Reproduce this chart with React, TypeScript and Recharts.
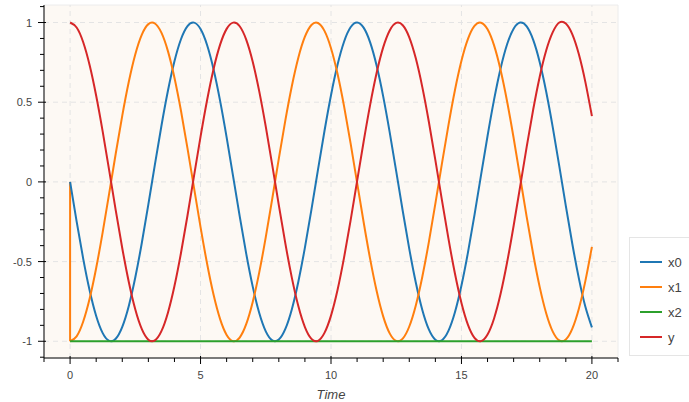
import React from "react";
import { LineChart, Line, XAxis, YAxis, CartesianGrid, ReferenceLine, ReferenceArea } from "recharts";

const time = [
  0, 0.25, 0.5, 0.75, 1, 1.25, 1.5, 1.75, 2, 2.25, 2.5, 2.75, 3, 3.25, 3.5, 3.75, 4, 4.25, 4.5, 4.75,
  5, 5.25, 5.5, 5.75, 6, 6.25, 6.5, 6.75, 7, 7.25, 7.5, 7.75, 8, 8.25, 8.5, 8.75, 9, 9.25, 9.5, 9.75,
  10, 10.25, 10.5, 10.75, 11, 11.25, 11.5, 11.75, 12, 12.25, 12.5, 12.75, 13, 13.25, 13.5, 13.75, 14, 14.25, 14.5, 14.75,
  15, 15.25, 15.5, 15.75, 16, 16.25, 16.5, 16.75, 17, 17.25, 17.5, 17.75, 18, 18.25, 18.5, 18.75, 19, 19.25, 19.5, 19.75, 20,
];

const x0 = [
  0, -0.2474, -0.4794, -0.6816, -0.8415, -0.949, -0.9975, -0.984, -0.9093, -0.7781, -0.5985, -0.3817, -0.1411, 0.1082, 0.3508, 0.5716, 0.7568, 0.895, 0.9775, 0.9993,
  0.9589, 0.8589, 0.7055, 0.5083, 0.2794, 0.0332, -0.2151, -0.45, -0.657, -0.8231, -0.938, -0.9946, -0.9894, -0.9224, -0.7985, -0.6247, -0.4121, -0.1739, 0.0752, 0.3195,
  0.544, 0.7347, 0.8797, 0.97, 1.0, 0.9678, 0.8755, 0.7287, 0.5366, 0.3111, 0.0663, -0.1826, -0.4202, -0.6316, -0.8038, -0.926, -0.9906, -0.9936, -0.9349, -0.818,
  -0.6503, -0.4421, -0.2065, 0.042, 0.2879, 0.5159, 0.7118, 0.8634, 0.9614, 0.9996, 0.9756, 0.891, 0.751, 0.5643, 0.3425, 0.0994, -0.1499, -0.3898, -0.6055, -0.7836, -0.9129,
];

// x1 starts at 0 at Time 0 and drops straight to -1
const x1Start = [0, -1];
const x1StartTime = [0, 0];
const x1 = [
  -1, -0.9689, -0.8776, -0.7317, -0.5403, -0.3153, -0.0707, 0.1782, 0.4161, 0.6282, 0.8011, 0.9243, 0.99, 0.9941, 0.9365, 0.8206, 0.6536, 0.4461, 0.2108, -0.0376,
  -0.2837, -0.5121, -0.7087, -0.8612, -0.9602, -0.9995, -0.9766, -0.893, -0.7539, -0.5679, -0.3466, -0.104, 0.1455, 0.3862, 0.602, 0.7808, 0.9111, 0.9848, 0.9972, 0.9476,
  0.8391, 0.6784, 0.4755, 0.2431, -0.0044, -0.2517, -0.4833, -0.6849, -0.8439, -0.9504, -0.9978, -0.9832, -0.9074, -0.7753, -0.5949, -0.3776, -0.1367, 0.1126, 0.3549, 0.5752,
  0.7597, 0.897, 0.9785, 0.9991, 0.9577, 0.8567, 0.7024, 0.5045, 0.2752, 0.0288, -0.2194, -0.454, -0.6603, -0.8256, -0.9395, -0.995, -0.9887, -0.9209, -0.7958, -0.6213, -0.4081,
];

const x2 = [
  -1, -1, -1, -1, -1, -1, -1, -1, -1, -1, -1, -1, -1, -1, -1, -1, -1, -1, -1, -1,
  -1, -1, -1, -1, -1, -1, -1, -1, -1, -1, -1, -1, -1, -1, -1, -1, -1, -1, -1, -1,
  -1, -1, -1, -1, -1, -1, -1, -1, -1, -1, -1, -1, -1, -1, -1, -1, -1, -1, -1, -1,
  -1, -1, -1, -1, -1, -1, -1, -1, -1, -1, -1, -1, -1, -1, -1, -1, -1, -1, -1, -1, -1,
];

const y = [
  1, 0.9689, 0.8776, 0.7317, 0.5403, 0.3153, 0.0707, -0.1782, -0.4161, -0.6282, -0.8011, -0.9243, -0.99, -0.9941, -0.9365, -0.8206, -0.6536, -0.4461, -0.2108, 0.0376,
  0.2837, 0.5121, 0.7087, 0.8612, 0.9602, 0.9995, 0.9766, 0.893, 0.7539, 0.5679, 0.3466, 0.104, -0.1455, -0.3862, -0.602, -0.7808, -0.9111, -0.9848, -0.9972, -0.9476,
  -0.8391, -0.6784, -0.4755, -0.2431, 0.0044, 0.2517, 0.4833, 0.6849, 0.8439, 0.9504, 0.9978, 0.9832, 0.9074, 0.7753, 0.5949, 0.3776, 0.1367, -0.1126, -0.3549, -0.5752,
  -0.7597, -0.897, -0.9785, -0.9991, -0.9577, -0.8567, -0.7024, -0.5045, -0.2752, -0.0288, 0.2194, 0.454, 0.6603, 0.8256, 0.9395, 1.0, 0.9937, 0.9259, 0.8008, 0.6263, 0.4131,
];

const xTicks = [-1, 0, 1, 2, 3, 4, 5, 6, 7, 8, 9, 10, 11, 12, 13, 14, 15, 16, 17, 18, 19, 20, 21];
const xMajor = [0, 5, 10, 15, 20];
const yTicks = [-1.1, -1, -0.9, -0.8, -0.7, -0.6, -0.5, -0.4, -0.3, -0.2, -0.1, 0, 0.1, 0.2, 0.3, 0.4, 0.5, 0.6, 0.7, 0.8, 0.9, 1, 1.1];
const yMajor = [-1, -0.5, 0, 0.5, 1];
const xDomain = [-1, 21];
const yDomain = [-1.105, 1.11];

const seriesNames = ["x0", "x1", "x2", "y"];
const seriesColors = ["#1f77b4", "#ff7f0e", "#2ca02c", "#d62728"];
const seriesValues = [x0, x1, x2, y];

const data = time.map((t, i) => {
  const row: Record<string, number> = { t };
  seriesNames.forEach((n, k) => {
    row[n] = seriesValues[k][i];
  });
  return row;
});
const x1StartData = x1StartTime.map((t, i) => ({ t, x1: x1Start[i] }));

const FONT = "'Liberation Sans', Helvetica, Arial, sans-serif";
const isMajor = (v: number, majors: number[]) => majors.some((m) => Math.abs(m - v) < 1e-9);

const XTick = (props: any) => {
  const { x, y: yy, payload } = props;
  const major = isMajor(payload.value, xMajor);
  return (
    <g>
      <line x1={x} x2={x} y1={major ? yy - 2 : yy} y2={major ? yy + 6 : yy + 4} stroke="#000" strokeWidth={1} />
      {major && (
        <text x={x} y={yy + 21} textAnchor="middle" fontSize={11} fill="#444" fontFamily={FONT}>
          {payload.value}
        </text>
      )}
    </g>
  );
};

const YTick = (props: any) => {
  const { x, y: yy, payload } = props;
  const major = isMajor(payload.value, yMajor);
  return (
    <g>
      <line x1={major ? x - 6 : x - 4} x2={major ? x + 2 : x} y1={yy} y2={yy} stroke="#000" strokeWidth={1} />
      {major && (
        <text x={x - 12} y={yy + 4} textAnchor="end" fontSize={11} fill="#444" fontFamily={FONT}>
          {payload.value}
        </text>
      )}
    </g>
  );
};

export default function App() {
  return (
    <div style={{ position: "absolute", left: 0, top: 0, width: 689, height: 402, background: "#fff" }}>
      <LineChart width={689} height={402} data={data} margin={{ top: 5, right: 71, bottom: 0, left: 0 }}>
        <CartesianGrid horizontal={false} vertical={false} fill="#fdf9f4" />
        <ReferenceArea x1={xDomain[0]} x2={xDomain[1]} y1={yDomain[0]} y2={yDomain[1]} fill="none" stroke="#ececec" strokeWidth={1} ifOverflow="visible" />
        {xMajor.map((v) => (
          <ReferenceLine key={"gx" + v} x={v} stroke="#e4e4e4" strokeDasharray="5 4" strokeWidth={1} />
        ))}
        {yMajor.map((v) => (
          <ReferenceLine key={"gy" + v} y={v} stroke="#e4e4e4" strokeDasharray="5 4" strokeWidth={1} />
        ))}
        <XAxis
          dataKey="t"
          type="number"
          domain={xDomain}
          ticks={xTicks}
          interval={0}
          allowDataOverflow
          height={44}
          tickSize={0}
          tickMargin={0}
          tickLine={false}
          axisLine={{ stroke: "#000", strokeWidth: 1 }}
          tick={<XTick />}
          label={{ value: "Time", position: "insideBottom", offset: 3, style: { fontStyle: "italic", fontSize: 13, fill: "#444", fontFamily: FONT } }}
        />
        <YAxis
          type="number"
          domain={yDomain}
          ticks={yTicks}
          interval={0}
          allowDataOverflow
          width={44}
          tickSize={0}
          tickMargin={0}
          tickLine={false}
          axisLine={{ stroke: "#000", strokeWidth: 1 }}
          tick={<YTick />}
        />
        <Line
          data={x1StartData}
          dataKey="x1"
          type="linear"
          stroke={seriesColors[1]}
          strokeWidth={2}
          dot={false}
          isAnimationActive={false}
          legendType="none"
        />
        {seriesNames.map((n, k) => (
          <Line
            key={n}
            dataKey={n}
            type="natural"
            stroke={seriesColors[k]}
            strokeWidth={2}
            dot={false}
            isAnimationActive={false}
          />
        ))}
      </LineChart>
      <div
        style={{
          position: "absolute",
          left: 629,
          top: 237,
          width: 70,
          height: 119,
          boxSizing: "border-box",
          border: "1px solid #e5e5e5",
          background: "#fff",
          fontFamily: FONT,
        }}
      >
        {seriesNames.map((n, k) => (
          <div key={n} style={{ position: "absolute", left: 10, top: 12 + k * 25, height: 24, display: "flex", alignItems: "center" }}>
            <div style={{ width: 22, height: 2, background: seriesColors[k] }} />
            <span style={{ marginLeft: 6, fontSize: 13, color: "#444" }}>{n}</span>
          </div>
        ))}
      </div>
    </div>
  );
}
